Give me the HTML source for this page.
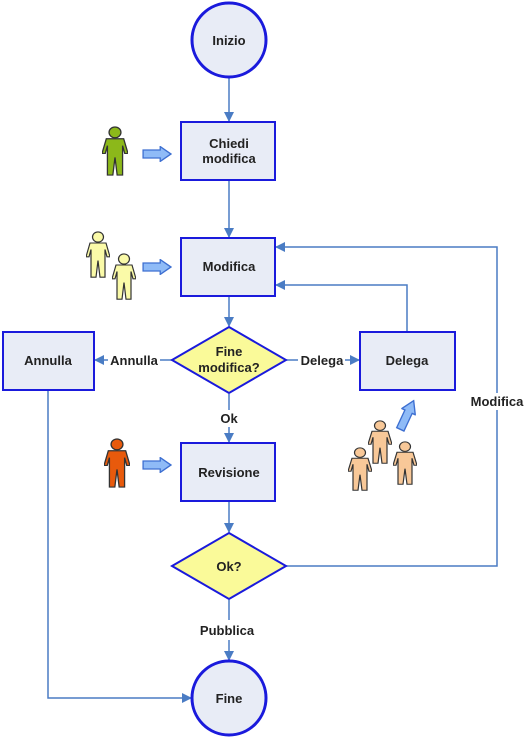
<!DOCTYPE html>
<html><head><style>body{margin:0;background:#fff}svg{display:block}</style></head><body>
<svg width="526" height="739" xmlns="http://www.w3.org/2000/svg" font-family="Liberation Sans, sans-serif" font-weight="bold" font-size="13">
<defs>
<marker id="a" markerWidth="10" markerHeight="10" refX="9" refY="5" orient="auto" markerUnits="userSpaceOnUse"><path d="M0,0 L10,5 L0,10 z" fill="#4a7cc4"/></marker>
<symbol id="p" viewBox="0 0 24 52" preserveAspectRatio="none"><circle cx="12" cy="6.5" r="5.5" stroke="#333" stroke-width="1.2"/><path d="M4,13 h16 l4,15 h-3 l-2,-8 v30 h-5 l-2,-18 l-2,18 h-5 v-30 l-2,8 h-3 z" stroke="#333" stroke-width="1.2"/></symbol>
<symbol id="ar" viewBox="0 0 28 14" preserveAspectRatio="none"><path d="M1,3.5 h16 v-3 l10,6.5 l-10,6.5 v-3 h-16 z" fill="#8fbbf7" stroke="#3d6fd1" stroke-width="1.2"/></symbol>
</defs>
<g stroke="#4a7cc4" stroke-width="1.5" fill="none">
<line x1="229" y1="78" x2="229" y2="121" marker-end="url(#a)"/>
<line x1="229" y1="181" x2="229" y2="237" marker-end="url(#a)"/>
<line x1="229" y1="297" x2="229" y2="326" marker-end="url(#a)"/>
<line x1="229" y1="394" x2="229" y2="410"/>
<line x1="229" y1="427" x2="229" y2="442" marker-end="url(#a)"/>
<line x1="229" y1="502" x2="229" y2="532" marker-end="url(#a)"/>
<line x1="229" y1="600" x2="229" y2="620"/>
<line x1="229" y1="640" x2="229" y2="660" marker-end="url(#a)"/>
<line x1="172" y1="360" x2="160" y2="360"/>
<line x1="108" y1="360" x2="95" y2="360" marker-end="url(#a)"/>
<line x1="286" y1="360" x2="298" y2="360"/>
<line x1="345" y1="360" x2="359" y2="360" marker-end="url(#a)"/>
<polyline points="407,331 407,285 276,285" marker-end="url(#a)"/>
<polyline points="286,566 497,566 497,410"/>
<polyline points="497,393 497,247 276,247" marker-end="url(#a)"/>
<polyline points="48,391 48,698 191,698" marker-end="url(#a)"/>
</g>
<g stroke="#1a1adc" fill="#e8ecf6" stroke-width="2">
<circle cx="229" cy="40" r="37" stroke-width="3"/>
<circle cx="229" cy="698" r="37" stroke-width="3"/>
<rect x="181" y="122" width="94" height="58"/>
<rect x="181" y="238" width="94" height="58"/>
<rect x="3" y="332" width="91" height="58"/>
<rect x="360" y="332" width="95" height="58"/>
<rect x="181" y="443" width="94" height="58"/>
<path d="M229,327 L286,360 L229,393 L172,360 z" fill="#fafa99"/>
<path d="M229,533 L286,566 L229,599 L172,566 z" fill="#fafa99"/>
</g>
<g fill="#222" text-anchor="middle">
<text x="229" y="45">Inizio</text>
<text x="229" y="148">Chiedi</text><text x="229" y="163">modifica</text>
<text x="229" y="271">Modifica</text>
<text x="229" y="356">Fine</text><text x="229" y="372">modifica?</text>
<text x="48" y="365">Annulla</text>
<text x="407" y="365">Delega</text>
<text x="229" y="477">Revisione</text>
<text x="229" y="571">Ok?</text>
<text x="229" y="703">Fine</text>
<text x="134" y="365">Annulla</text>
<text x="322" y="365">Delega</text>
<text x="229" y="423">Ok</text>
<text x="497" y="406">Modifica</text>
<text x="227" y="635">Pubblica</text>
</g>
<use href="#p" x="102" y="126" width="26" height="51" fill="#8cb81a"/>
<use href="#ar" x="142" y="146" width="30" height="16"/>
<use href="#p" x="86" y="231" width="24" height="48" fill="#fafaa8"/>
<use href="#p" x="112" y="253" width="24" height="48" fill="#fafaa8"/>
<use href="#ar" x="142" y="259" width="30" height="16"/>
<use href="#p" x="104" y="438" width="26" height="51" fill="#e85a0c"/>
<use href="#ar" x="142" y="457" width="30" height="16"/>
<use href="#p" x="348" y="447" width="24" height="45" fill="#f8c898"/>
<use href="#p" x="368" y="420" width="24" height="45" fill="#f8c898"/>
<use href="#p" x="393" y="441" width="24" height="45" fill="#f8c898"/>
<use href="#ar" x="390" y="407" width="34" height="16" transform="rotate(-65 407 415)"/>
</svg>
</body></html>
